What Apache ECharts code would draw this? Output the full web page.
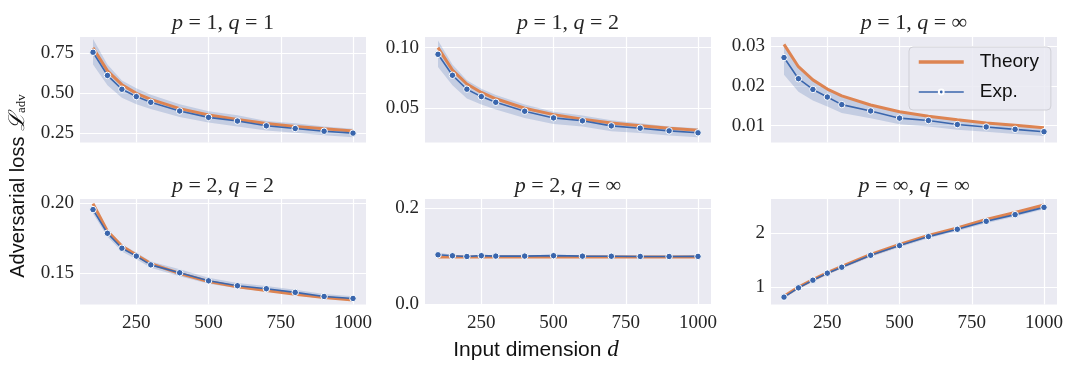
<!DOCTYPE html>
<html>
<head>
<meta charset="utf-8">
<script src="https://cdn.jsdelivr.net/npm/echarts@6/dist/echarts.min.js"></script>
<style>
html,body{margin:0;padding:0;background:#ffffff;}
#chart{width:1070px;height:374px;}
</style>
</head>
<body>
<div id="chart"></div>
<script>
// ---------- DATA ----------
const dims = [100, 150, 200, 250, 300, 400, 500, 600, 700, 800, 900, 1000];
const xTicks = [250, 500, 750, 1000];
const xTickLabels = ['250', '500', '750', '1000'];

// p=1, q=1
const theory_1_1 = [0.785, 0.640, 0.553, 0.498, 0.460, 0.402, 0.362, 0.334, 0.308, 0.290, 0.275, 0.262];
const exp_1_1    = [0.757, 0.611, 0.524, 0.478, 0.442, 0.387, 0.347, 0.324, 0.294, 0.277, 0.260, 0.248];
const lo_1_1     = [0.680, 0.550, 0.470, 0.430, 0.400, 0.350, 0.315, 0.290, 0.265, 0.250, 0.235, 0.222];
const hi_1_1     = [0.840, 0.680, 0.580, 0.530, 0.490, 0.430, 0.385, 0.360, 0.325, 0.310, 0.290, 0.276];
const yTicks_1_1 = [0.25, 0.50, 0.75];
const yLabels_1_1 = ['0.25', '0.50', '0.75'];

// p=1, q=2
const theory_1_2 = [0.1000, 0.0815, 0.0700, 0.0630, 0.0578, 0.0500, 0.0447, 0.0410, 0.0378, 0.0355, 0.0335, 0.0318];
const exp_1_2    = [0.0945, 0.0772, 0.0657, 0.0596, 0.0549, 0.0475, 0.0420, 0.0396, 0.0354, 0.0335, 0.0313, 0.0297];
const lo_1_2     = [0.0840, 0.0690, 0.0580, 0.0530, 0.0490, 0.0420, 0.0370, 0.0350, 0.0310, 0.0295, 0.0275, 0.0260];
const hi_1_2     = [0.1060, 0.0860, 0.0730, 0.0660, 0.0610, 0.0530, 0.0470, 0.0440, 0.0400, 0.0375, 0.0350, 0.0335];
const yTicks_1_2 = [0.05, 0.10];
const yLabels_1_2 = ['0.05', '0.10'];

// p=1, q=inf
const theory_1_inf = [0.0304, 0.0248, 0.0215, 0.0192, 0.0175, 0.0152, 0.0135, 0.0124, 0.0115, 0.0107, 0.0101, 0.0095];
const exp_1_inf    = [0.0271, 0.0218, 0.0191, 0.0172, 0.0153, 0.0137, 0.0119, 0.0113, 0.0103, 0.0097, 0.0091, 0.0085];
const lo_1_inf     = [0.0228, 0.0185, 0.0163, 0.0148, 0.0132, 0.0119, 0.0104, 0.0098, 0.0090, 0.0085, 0.0079, 0.0074];
const hi_1_inf     = [0.0300, 0.0245, 0.0215, 0.0192, 0.0172, 0.0153, 0.0133, 0.0125, 0.0115, 0.0108, 0.0101, 0.0095];
const yTicks_1_inf = [0.01, 0.02, 0.03];
const yLabels_1_inf = ['0.01', '0.02', '0.03'];

// p=2, q=2
const theory_2_2 = [0.1995, 0.1800, 0.1695, 0.1630, 0.1570, 0.1500, 0.1443, 0.1405, 0.1380, 0.1352, 0.1330, 0.1312];
const exp_2_2    = [0.1953, 0.1785, 0.1679, 0.1623, 0.1561, 0.1505, 0.1448, 0.1413, 0.1392, 0.1366, 0.1337, 0.1323];
const lo_2_2     = [0.1925, 0.1760, 0.1655, 0.1600, 0.1540, 0.1480, 0.1428, 0.1395, 0.1372, 0.1348, 0.1320, 0.1308];
const hi_2_2     = [0.1980, 0.1810, 0.1705, 0.1648, 0.1585, 0.1530, 0.1470, 0.1432, 0.1412, 0.1385, 0.1355, 0.1338];
const yTicks_2_2 = [0.15, 0.20];
const yLabels_2_2 = ['0.15', '0.20'];

// p=2, q=inf
const theory_2_inf = [0.0985, 0.0985, 0.0985, 0.0985, 0.0985, 0.0985, 0.0985, 0.0985, 0.0985, 0.0985, 0.0985, 0.0985];
const exp_2_inf    = [0.1030, 0.1010, 0.0995, 0.1012, 0.1003, 0.1003, 0.1012, 0.1002, 0.1000, 0.0996, 0.0995, 0.0997];
const lo_2_inf     = [0.0985, 0.0990, 0.0978, 0.0994, 0.0986, 0.0986, 0.0994, 0.0985, 0.0983, 0.0980, 0.0979, 0.0981];
const hi_2_inf     = [0.1080, 0.1030, 0.1012, 0.1030, 0.1020, 0.1020, 0.1030, 0.1019, 0.1017, 0.1012, 0.1011, 0.1013];
const yTicks_2_inf = [0.0, 0.2];
const yLabels_2_inf = ['0.0', '0.2'];

// p=inf, q=inf
const theory_inf_inf = [0.825, 0.995, 1.135, 1.265, 1.378, 1.600, 1.785, 1.955, 2.095, 2.250, 2.380, 2.520];
const exp_inf_inf    = [0.809, 0.981, 1.123, 1.253, 1.364, 1.586, 1.765, 1.932, 2.068, 2.216, 2.340, 2.475];
const lo_inf_inf     = [0.785, 0.955, 1.095, 1.225, 1.335, 1.555, 1.735, 1.900, 2.035, 2.180, 2.305, 2.440];
const hi_inf_inf     = [0.835, 1.005, 1.150, 1.280, 1.392, 1.615, 1.795, 1.965, 2.100, 2.250, 2.375, 2.510];
const yTicks_inf_inf = [1, 2];
const yLabels_inf_inf = ['1', '2'];

const panelTitles = [
  ['1', '1'], ['1', '2'], ['1', '∞'],
  ['2', '2'], ['2', '∞'], ['∞', '∞']
];

// ---------- LAYOUT / STYLE ----------
const panels = [
  {th: theory_1_1, ex: exp_1_1, lo: lo_1_1, hi: hi_1_1, yt: yTicks_1_1, yl: yLabels_1_1, ymin: 0.189, ymax: 0.853},
  {th: theory_1_2, ex: exp_1_2, lo: lo_1_2, hi: hi_1_2, yt: yTicks_1_2, yl: yLabels_1_2, ymin: 0.0217, ymax: 0.1088},
  {th: theory_1_inf, ex: exp_1_inf, lo: lo_1_inf, hi: hi_1_inf, yt: yTicks_1_inf, yl: yLabels_1_inf, ymin: 0.0058, ymax: 0.03225},
  {th: theory_2_2, ex: exp_2_2, lo: lo_2_2, hi: hi_2_2, yt: yTicks_2_2, yl: yLabels_2_2, ymin: 0.128, ymax: 0.2028},
  {th: theory_2_inf, ex: exp_2_inf, lo: lo_2_inf, hi: hi_2_inf, yt: yTicks_2_inf, yl: yLabels_2_inf, ymin: 0.0, ymax: 0.2186},
  {th: theory_inf_inf, ex: exp_inf_inf, lo: lo_inf_inf, hi: hi_inf_inf, yt: yTicks_inf_inf, yl: yLabels_inf_inf, ymin: 0.672, ymax: 2.63}
];
const lefts = [80, 425, 771];
const tops = [37, 199];
const W = 286, H = 105.5;
const BG = '#EAEAF2';
const ORANGE = '#DD8452';
const BLUE = '#3A66AD';
const BAND = 'rgba(76,114,176,0.24)';
const SERIF = '"Liberation Serif", "DejaVu Serif", serif';
const SANS = '"Liberation Sans", "DejaVu Sans", sans-serif';
const TXT = '#262626';

const grids = [], xAxes = [], yAxes = [], series = [], titles = [];
panels.forEach((p, i) => {
  const col = i % 3, row = Math.floor(i / 3);
  grids.push({left: lefts[col], top: tops[row], width: W, height: H,
    show: true, backgroundColor: BG, borderWidth: 0, containLabel: false});
  xAxes.push({
    type: 'value', gridIndex: i, min: 55, max: 1045,
    axisLine: {show: false},
    axisTick: {show: false, customValues: xTicks},
    axisLabel: {show: row === 1, customValues: xTicks, margin: 9,
      fontFamily: SERIF, fontSize: 19, color: TXT,
      formatter: v => xTickLabels[xTicks.indexOf(v)]},
    splitLine: {show: true, lineStyle: {color: '#ffffff', width: 1.2}}
  });
  yAxes.push({
    type: 'value', gridIndex: i, min: p.ymin, max: p.ymax,
    axisLine: {show: false},
    axisTick: {show: false, customValues: p.yt},
    axisLabel: {show: true, customValues: p.yt, margin: 6,
      fontFamily: SERIF, fontSize: 19, color: TXT,
      formatter: v => {
        let best = 0;
        p.yt.forEach((t, k) => { if (Math.abs(t - v) < Math.abs(p.yt[best] - v)) best = k; });
        return p.yl[best];
      }},
    splitLine: {show: true, lineStyle: {color: '#ffffff', width: 1.2}}
  });
  // uncertainty band as a polygon through the axis scales
  series.push({
    type: 'custom', xAxisIndex: i, yAxisIndex: i, silent: true, clip: true, z: 1,
    data: dims.map((d, k) => [d, p.lo[k], p.hi[k]]),
    encode: {x: 0, y: [1, 2]},
    renderItem: (params, api) => {
      if (params.dataIndex !== 0) return null;
      const pts = [];
      for (let k = 0; k < dims.length; k++) pts.push(api.coord([dims[k], p.hi[k]]));
      for (let k = dims.length - 1; k >= 0; k--) pts.push(api.coord([dims[k], p.lo[k]]));
      return {type: 'polygon', shape: {points: pts}, style: {fill: BAND}};
    }
  });
  series.push({
    name: 'Theory', type: 'line', xAxisIndex: i, yAxisIndex: i,
    data: dims.map((d, k) => [d, p.th[k]]),
    symbol: 'none', smooth: false,
    lineStyle: {color: ORANGE, width: 3}, itemStyle: {color: ORANGE}, z: 2
  });
  series.push({
    name: 'Exp.', type: 'line', xAxisIndex: i, yAxisIndex: i,
    data: dims.map((d, k) => [d, p.ex[k]]),
    symbol: 'circle', symbolSize: 6.5,
    lineStyle: {color: BLUE, width: 1.6},
    itemStyle: {color: BLUE, borderColor: '#ffffff', borderWidth: 1},
    z: 3
  });
  const pq = panelTitles[i];
  titles.push({
    text: '{i|p} = ' + pq[0] + ', {i|q} = ' + pq[1],
    left: lefts[col] + W / 2, top: row === 0 ? 12 : 175,
    textAlign: 'center', padding: 0,
    textStyle: {
      fontFamily: SERIF, fontSize: 22, fontWeight: 'normal', color: TXT,
      rich: {i: {fontFamily: SERIF, fontStyle: 'italic', fontSize: 22, color: TXT}}
    }
  });
});

const chart = echarts.init(document.getElementById('chart'), null, {renderer: 'canvas'});
chart.setOption({
  backgroundColor: '#ffffff',
  animation: false,
  title: titles,
  grid: grids,
  xAxis: xAxes,
  yAxis: yAxes,
  series: series,
  legend: {
    data: [
      {name: 'Theory', itemStyle: {opacity: 0}, lineStyle: {width: 3.5, color: ORANGE}},
      {name: 'Exp.', lineStyle: {width: 1.6, color: BLUE}}
    ],
    orient: 'vertical',
    left: 909, top: 47,
    padding: [5, 12, 8, 8],
    itemWidth: 45, itemHeight: 6, itemGap: 10,
    backgroundColor: 'rgba(234,234,242,0.85)',
    borderColor: '#cfcfd6', borderWidth: 1, borderRadius: 4,
    textStyle: {fontFamily: SANS, fontSize: 19, color: '#111', padding: [0, 0, 0, 11], lineHeight: 20},
    selectedMode: false
  },
  graphic: [
    {
      type: 'text', x: 18, y: 186, rotation: Math.PI / 2,
      style: {
        text: 'Adversarial loss {m|ℒ}{s|adv}',
        fontFamily: SANS, fontSize: 20, fill: '#111',
        align: 'center', verticalAlign: 'middle',
        rich: {
          m: {fontFamily: SERIF, fontStyle: 'italic', fontSize: 22, fill: '#111'},
          s: {fontFamily: SERIF, fontSize: 13, fill: '#111', padding: [8, 0, 0, 0]}
        }
      }
    },
    {
      type: 'text', x: 536, y: 350,
      style: {
        text: 'Input dimension {d|d}',
        fontFamily: SANS, fontSize: 21, fill: '#111',
        align: 'center', verticalAlign: 'middle',
        rich: {d: {fontFamily: SERIF, fontStyle: 'italic', fontSize: 23, fill: '#111'}}
      }
    }
  ]
});
</script>
</body>
</html>
